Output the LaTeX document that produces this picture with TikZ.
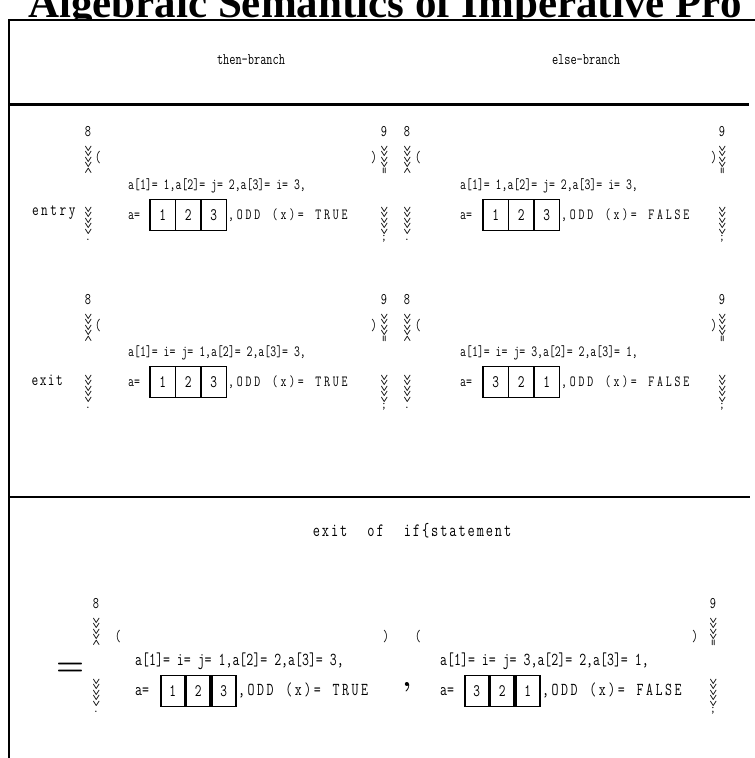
\documentclass[tikz,border=0pt]{standalone}
\usepackage{fontspec}
\newfontfamily\titlefont{Liberation Serif}
\newcommand\T[1]{\scalebox{1}[1.35]{#1}}
\makeatletter
\def\lsp#1#2{\def\lsp@k{\kern#1}\lsp@a#2\relax}
\def\lsp@a#1{\ifx#1\relax\else#1\lsp@k\expandafter\lsp@a\fi}
\makeatother
\def\tailk{2.8pt}
\tikzset{
  txt/.style={font=\ttfamily\fontsize{11.5}{13}\selectfont, inner sep=0pt, anchor=base west},
  tail/.style={font=\ttfamily\fontsize{11.5}{13}\selectfont, inner sep=0pt, anchor=base west},
  hd/.style={font=\ttfamily\fontsize{12}{14}\selectfont, inner sep=0pt},
  lbl/.style={font=\ttfamily\fontsize{13}{15}\selectfont, inner sep=0pt},
  cell/.style={draw, line width=1.6pt, minimum width=25.5pt, minimum height=31pt, inner sep=0pt, font=\ttfamily\fontsize{13}{15}\selectfont},
  bp/.style={font=\ttfamily\fontsize{12}{13}\selectfont, inner sep=0pt},
  wv/.style={font=\ttfamily\fontsize{13}{14}\selectfont, inner sep=0pt},
  par/.style={font=\ttfamily\fontsize{12}{14}\selectfont, inner sep=0pt},
  frame/.style={line width=1.6pt}
}
% left brace pieces: #1 name, #2 x, #3 y of top figure
\newcommand\lbr[3]{%
  \node[bp] (#1t) at (#2,#3) {\T{8}};
  \node[wv, rotate=-90] (#1u) at (#2,#3+27) {\lsp{-1.2pt}{>>>><}};
  \node[wv, rotate=-90] (#1l) at (#2,#3+88) {\lsp{-1.2pt}{>>>>>}};
  \node[bp] (#1d) at (#2,#3+108) {.};
}
\newcommand\rbr[3]{%
  \node[bp] (#1t) at (#2,#3) {\T{9}};
  \node[wv, rotate=-90] (#1u) at (#2,#3+27) {\lsp{-1.2pt}{>>>>=}};
  \node[wv, rotate=-90] (#1l) at (#2,#3+88) {\lsp{-1.2pt}{>>>>>}};
  \node[bp] (#1d) at (#2,#3+107) {;};
}
% state block: #1 prefix, #2 x, #3 baseline y, #4 first line, #5-#7 cells, #8 tail, #9 cell offset
\newcommand\stb[9]{%
  \node[txt] (#1a) at (#2,#3) {\T{#4}};
  \node[txt] (#1b) at (#2,#3+30) {\T{a=}};
  \node[cell] (#1c1) at (#2+#9+12.75,#3+26) {\T{#5}};
  \node[cell] (#1c2) at (#2+#9+38.25,#3+26) {\T{#6}};
  \node[cell] (#1c3) at (#2+#9+63.75,#3+26) {\T{#7}};
  \node[tail] (#1d) at (#2+#9+78,#3+30) {\T{\lsp{\tailk}{#8}}};
}
\begin{document}
\begin{tikzpicture}[x=1pt,y=-1pt]
\useasboundingbox (0,0) rectangle (755,758);
% title
\node[font=\titlefont\bfseries\fontsize{43}{43}\selectfont, anchor=base west, inner sep=0pt] (title) at (28,17) {Algebraic Semantics of Imperative Pro};
% frame
\draw[frame, fill=white] (9,758) -- (9,20) -- (756,20);
\draw[line width=3pt] (10,104) -- (749,104);
\draw[line width=2pt] (9,497) -- (750,497);
% headers
\node[hd] (th) at (251,60) {\T{then-branch}};
\node[hd] (el) at (586,60) {\T{else-branch}};
% row labels
\node[lbl] (entry) at (55,213) {\T{\lsp{2.5pt}{entry}}};
\node[lbl] (exit) at (48,380) {\T{\lsp{1.5pt}{exit}}};
% entry row
\lbr{etl}{88}{132}
\node[par] (etp) at (98,158) {\T{(}};
\node[par] (etq) at (374,158) {\T{)}};
\rbr{etr}{384}{132}
\stb{et}{128}{189}{a[1]= 1,a[2]= j= 2,a[3]= i= 3,}{1}{2}{3}{,ODD~(x)=~TRUE}{22}
\lbr{eel}{407}{132}
\node[par] (eep) at (418,158) {\T{(}};
\node[par] (eeq) at (714,158) {\T{)}};
\rbr{eer}{722}{132}
\stb{ee}{460}{189}{a[1]= 1,a[2]= j= 2,a[3]= i= 3,}{1}{2}{3}{,ODD~(x)=~FALSE}{23}
% exit row
\lbr{xtl}{88}{300}
\node[par] (xtp) at (98,326) {\T{(}};
\node[par] (xtq) at (374,326) {\T{)}};
\rbr{xtr}{384}{300}
\stb{xt}{128}{356}{a[1]= i= j= 1,a[2]= 2,a[3]= 3,}{1}{2}{3}{,ODD~(x)=~TRUE}{22}
\lbr{xel}{407}{300}
\node[par] (xep) at (418,326) {\T{(}};
\node[par] (xeq) at (714,326) {\T{)}};
\rbr{xer}{722}{300}
\stb{xe}{460}{356}{a[1]= i= j= 3,a[2]= 2,a[3]= 1,}{3}{2}{1}{,ODD~(x)=~FALSE}{23}
% bottom section
\node[font=\ttfamily\fontsize{14}{16}\selectfont, inner sep=0pt] (ex) at (413,531) {\T{\lsp{1.9pt}{exit~~of~~if\{statement}}};
\node[font=\fontsize{32}{32}\selectfont\bfseries, inner sep=0pt] (eq) at (70,669) {=};
\lbr{btl}{96}{604}
\node[par] (btp) at (118,637) {\T{(}};
\node[par] (btq) at (386,637) {\T{)}};
\node[font=\fontsize{28}{28}\selectfont\bfseries, inner sep=0pt] (cm) at (407,687) {,};
\node[par] (bep) at (418,637) {\T{(}};
\node[par] (beq) at (695,637) {\T{)}};
\rbr{ber}{713}{604}
\begin{scope}[txt/.append style={font=\ttfamily\fontsize{13.5}{15}\selectfont},
              tail/.append style={font=\ttfamily\fontsize{13.5}{15}\selectfont},
              cell/.append style={minimum width=24pt}]
\def\tailk{2.5pt}
\stb{bt}{135}{665}{a[1]= i= j= 1,a[2]= 2,a[3]= 3,}{1}{2}{3}{,ODD~(x)=~TRUE}{25}
\stb{be}{440}{665}{a[1]= i= j= 3,a[2]= 2,a[3]= 1,}{3}{2}{1}{,ODD~(x)=~FALSE}{24}
\end{scope}
\end{tikzpicture}
\end{document}
